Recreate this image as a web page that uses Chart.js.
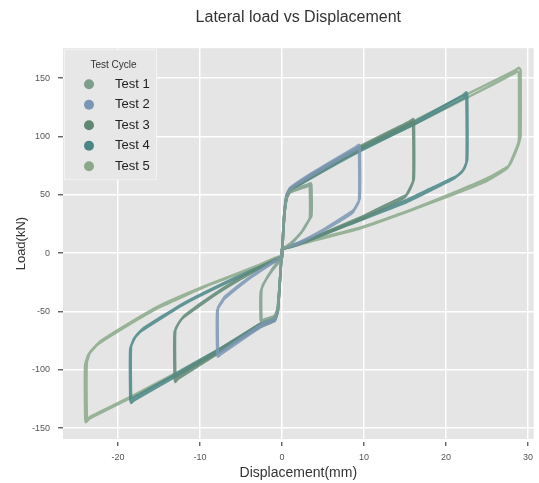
<!DOCTYPE html>
<html>
<head>
<meta charset="utf-8">
<script src="https://cdn.jsdelivr.net/npm/chart.js@4.4.0/dist/chart.umd.min.js"></script>
<style>
html,body{margin:0;padding:0;background:#fff;overflow:hidden}
#wrap{width:539px;height:483px;position:relative}
</style>
</head>
<body>
<div id="wrap"><canvas id="c" width="539" height="483"></canvas></div>
<script>
// ---- data ----
const chartTitle = 'Lateral load vs Displacement';
const xAxisTitle = 'Displacement(mm)';
const yAxisTitle = 'Load(kN)';
const legendTitle = 'Test Cycle';
const seriesNames = ['Test 1', 'Test 2', 'Test 3', 'Test 4', 'Test 5'];
const seriesColors = ['#7d9e8c', '#7b96b4', '#5f8774', '#4a8686', '#8aa989'];
const xTickStep = 10;
const yTickStep = 50;

const test1Disp = [0,0.1,0.3,0.6,1.0,3.2,3.5,3.6,3.6,3.2,2.5,1,0,-0.1,-0.3,-0.5,-0.9,-2.3,-2.5,-2.6,-2.6,-2.3,-1.2,0,
                   0.1,0.3,0.6,1.0,3.0,3.3,3.4,3.4,3.0,2.3,1,0,-0.1,-0.3,-0.5,-0.9,-2.2,-2.4,-2.5,-2.5,-2.2,-1.2,0];
const test1Load = [0,12,35,48,53,59,60,58,32,27,19,8,3,-8,-30,-48,-55,-58,-59,-57,-34,-27,-15,-4,
                   10,33,47,52,57,58,56,30,25,17,7,3,-8,-29,-47,-54,-57,-58,-56,-32,-26,-14,-3];

const test2Disp = [0,0.1,0.3,0.6,1.0,3.5,9.0,9.4,9.5,9.5,9.1,8.6,5,2,0,-0.1,-0.3,-0.5,-0.9,-2.5,-7.5,-7.8,-7.9,-7.9,-7.4,-7.0,-4,-1,0,
                   0.1,0.3,0.6,1.0,3.5,9.1,9.3,9.4,9.4,9.0,8.5,5,2,0,-0.1,-0.3,-0.5,-1,-2.5,-7.5,-7.7,-7.8,-7.8,-7.3,-6.9,-4,-1,0];
const test2Load = [0,12,36,51,56,68,91,93,90,47,41,36,20,9,3,-8,-30,-50,-58,-63,-87,-89,-86,-49,-43,-39,-22,-8,-4,
                   10,34,49,55,66,89,90,87,45,39,34,19,8,3,-8,-29,-49,-56,-61,-85,-86.5,-84,-47,-41,-37,-21,-7,-3];

const test3Disp = [0,0.1,0.3,0.6,1.0,3.5,9.4,15.6,16.0,16.1,16.1,15.7,15.2,12,10,5,1.5,0,-0.1,-0.3,-0.5,-0.9,-2.5,-7.8,-12.7,-13.0,-13.1,-13.1,-12.6,-12,-8,-4,-1,0,
                   0.1,0.3,0.6,1.0,3.5,9.4,15.7,15.9,16.0,16.0,15.5,15.0,10,5,1.5,0,-0.1,-0.3,-0.5,-1,-2.5,-7.8,-12.8,-12.9,-13.0,-13.0,-12.4,-11.8,-8,-4,-1,0];
const test3Load = [0,12,35,50,55,67,91,113,115,112,64,56,50,39,32,17,7,3,-8,-30,-50,-58,-62,-86,-108,-110.5,-107,-68,-60,-55,-35,-18,-7,-4,
                   10,33,48,54,65,89,111,112.5,110,62,54,48,30,16,6,3,-8,-29,-49,-56,-60,-84,-106,-108,-105,-66,-58,-53,-34,-17,-6,-3];

const test4Disp = [0,0.1,0.3,0.6,1.0,3.5,9.4,16,22.0,22.5,22.6,22.6,22.2,21.3,18,15,8,3,1,0,-0.1,-0.3,-0.5,-0.9,-2.5,-7.8,-13,-18.0,-18.4,-18.5,-18.5,-18.0,-17.2,-12,-6,-1.5,0,
                   0.1,0.3,0.6,1.0,3.5,9.4,16,22.2,22.4,22.5,22.5,22.0,21,15,8,3,0,-0.1,-0.3,-0.6,-1,-2.5,-7.8,-13,-18.1,-18.3,-18.4,-18.4,-17.8,-17,-12,-6,-1.5,0];
const test4Load = [0,12,35,50,55,66,89,112,135,138,135,80,72,66,55,45,25,11,6,3,-8,-30,-50,-57,-62,-85,-106,-126,-128.5,-125,-82,-73,-67,-44,-23,-9,-4,
                   10,33,48,53,64,87,110,133,135,132,78,70,64,43,24,10,3,-8,-30,-50,-56,-60,-83,-104,-124,-126,-122,-80,-71,-65,-43,-22,-8,-3];

const test5Disp = [0,0.1,0.3,0.6,1.0,3.5,9.4,16,22.5,28.5,28.9,29.1,29.1,28.8,27.7,25,21.7,15.7,9.6,3.6,1,0,-0.1,-0.3,-0.5,-0.9,-2.5,-7.8,-13,-18.4,-23.5,-23.9,-24.0,-24.0,-23.6,-22.4,-18.8,-14.8,-8.8,-2.8,-0.8,0,
                   0.1,0.3,0.6,1.0,3.5,9.4,16,22.5,28.3,28.7,28.9,28.9,28.6,27.5,25,21.5,15.5,9.5,3.5,1,0,-0.1,-0.3,-0.5,-0.9,-2.5,-7.8,-13,-18.4,-23.3,-23.7,-23.8,-23.8,-23.4,-22.2,-18.6,-14.6,-8.6,-2.7,-0.8,0];
const test5Load = [0,12,35,50,55,67,90,113,136,157,159,157,100,92,75,64,54,37,22,11,6,4,-8,-30,-50,-58,-63,-84,-104,-124,-142,-145,-140,-96,-87,-78,-62,-46,-27,-11,-5,-3,
                   10,34,49,54,66,88,110,133,154,156,154,97,90,73,62,52,36,21,10,5,3,-8,-29,-49,-57,-62,-83,-103,-123,-140,-143,-138,-94,-85,-76,-60,-44,-26,-10,-4,-2];

const allDisp = [test1Disp, test2Disp, test3Disp, test4Disp, test5Disp];
const allLoad = [test1Load, test2Load, test3Load, test4Load, test5Load];

function hexToRgba(hex, a) {
  const n = parseInt(hex.slice(1), 16);
  return 'rgba(' + ((n >> 16) & 255) + ',' + ((n >> 8) & 255) + ',' + (n & 255) + ',' + a + ')';
}

const datasets = seriesNames.map((name, i) => ({
  label: name,
  data: allDisp[i].map((x, j) => ({ x: x, y: allLoad[i][j] })),
  showLine: true,
  borderColor: hexToRgba(seriesColors[i], 0.85),
  backgroundColor: seriesColors[i],
  legendColor: seriesColors[i],
  borderWidth: 2.5,
  pointRadius: 0,
  tension: 0.12,
  borderJoinStyle: 'round',
  borderCapStyle: 'round'
}));

Chart.defaults.font.family = "'Liberation Sans', Arial, sans-serif";

const panelBg = {
  id: 'panelBg',
  beforeDraw(chart) {
    const { ctx, chartArea: a } = chart;
    ctx.save();
    ctx.fillStyle = '#e5e5e5';
    ctx.fillRect(a.left, a.top, a.right - a.left, a.bottom - a.top);
    ctx.restore();
  }
};

const insideLegend = {
  id: 'insideLegend',
  afterDatasetsDraw(chart) {
    const { ctx, chartArea: a } = chart;
    const x0 = a.left, y0 = a.top;
    ctx.save();
    ctx.fillStyle = '#e7e7e7';
    ctx.fillRect(x0 + 1, y0 + 1, 93, 131);
    ctx.strokeStyle = 'rgba(255,255,255,0.5)';
    ctx.lineWidth = 1;
    ctx.strokeRect(x0 + 1.5, y0 + 1.5, 92, 130);
    ctx.fillStyle = '#333';
    ctx.font = "10px 'Liberation Sans', Arial, sans-serif";
    ctx.textAlign = 'center';
    ctx.textBaseline = 'middle';
    ctx.fillText(legendTitle, x0 + 50.5, y0 + 17);
    chart.data.datasets.forEach((ds, i) => {
      const cy = y0 + 36 + i * 20.5;
      ctx.beginPath();
      ctx.arc(x0 + 26, cy, 5, 0, Math.PI * 2);
      ctx.fillStyle = ds.legendColor;
      ctx.fill();
      ctx.fillStyle = '#222';
      ctx.font = "13px 'Liberation Sans', Arial, sans-serif";
      ctx.textAlign = 'left';
      ctx.fillText(ds.label, x0 + 52, cy);
    });
    ctx.restore();
  }
};

new Chart(document.getElementById('c'), {
  type: 'scatter',
  data: { datasets: datasets },
  plugins: [panelBg, insideLegend],
  options: {
    responsive: false,
    animation: false,
    devicePixelRatio: 1,
    layout: { padding: { left: 0, right: 0, top: 0, bottom: 0 } },
    plugins: {
      legend: { display: false },
      tooltip: { enabled: false },
      title: {
        display: true,
        text: chartTitle,
        fullSize: false,
        color: '#333',
        font: { size: 16, weight: 'normal' },
        padding: { top: 8, bottom: 21 }
      }
    },
    scales: {
      x: {
        type: 'linear',
        min: -26.7,
        max: 30.7,
        afterFit(s) { s.height = 44; },
        border: { display: false },
        grid: {
          color: '#ffffff',
          lineWidth: 1.5,
          tickColor: '#555',
          tickLength: 7,
          tickWidth: 1.3,
          tickBorderDash: [0, 3, 4, 30]
        },
        ticks: { stepSize: xTickStep, includeBounds: false, color: '#555', font: { size: 9 }, padding: 6 },
        title: { display: true, text: xAxisTitle, color: '#333', font: { size: 14 }, padding: { top: 0, bottom: 1 } }
      },
      y: {
        type: 'linear',
        min: -159.4,
        max: 175.7,
        afterFit(s) { s.width = 63; },
        border: { display: false },
        grid: {
          color: '#ffffff',
          lineWidth: 1.5,
          tickColor: '#555',
          tickLength: 5,
          tickWidth: 1.3
        },
        ticks: { stepSize: yTickStep, includeBounds: false, color: '#555', font: { size: 9 }, padding: 8 },
        title: { display: true, text: yAxisTitle, color: '#333', font: { size: 13 }, padding: { top: 14, bottom: 0 } }
      }
    }
  }
});
</script>
</body>
</html>
